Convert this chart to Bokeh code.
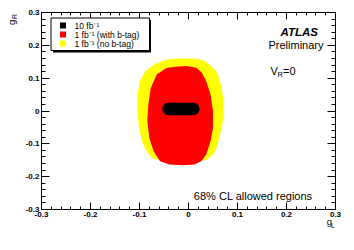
import numpy as np
from bokeh.plotting import figure
from bokeh.models import Range1d, FixedTicker, LinearAxis, Label, BoxAnnotation
from bokeh.embed import file_html
from bokeh.resources import INLINE

# ---- data (68% CL contours, in g_L / g_R units) ----
yellow_gL = [-0.030, -0.008, 0.018, 0.032, 0.043, 0.053, 0.060, 0.068, 0.072, 0.070, 0.063, 0.057,
             0.050, 0.035, -0.010, -0.060, -0.075, -0.085, -0.095, -0.101, -0.104, -0.104, -0.099,
             -0.088, -0.071, -0.045]
yellow_gR = [0.159, 0.160, 0.159, 0.153, 0.141, 0.127, 0.111, 0.070, 0.020, -0.031, -0.082, -0.113,
             -0.133, -0.150, -0.158, -0.150, -0.143, -0.123, -0.092, -0.051, -0.001, 0.050, 0.091,
             0.121, 0.141, 0.157]

red_gL = [-0.027, -0.004, 0.016, 0.027, 0.036, 0.045, 0.050, 0.050, 0.045, 0.036, 0.026, 0.012,
          -0.012, -0.039, -0.058, -0.071, -0.080, -0.084, -0.082, -0.077, -0.065, -0.045]
red_gR = [0.135, 0.137, 0.132, 0.117, 0.091, 0.050, -0.001, -0.052, -0.092, -0.133, -0.153, -0.163,
          -0.165, -0.163, -0.153, -0.123, -0.082, -0.031, 0.020, 0.070, 0.111, 0.131]

black_gL = [0.010, 0.0164, 0.021, 0.0227, 0.021, 0.0164, 0.010, -0.041, -0.0474, -0.052, -0.0537,
            -0.052, -0.0474, -0.041]
black_gR = [0.025, 0.0225, 0.0155, 0.006, -0.0035, -0.0105, -0.013, -0.013, -0.0105, -0.0035, 0.006,
            0.0155, 0.0225, 0.025]

series_labels = ["10 fb\u207b\u00b9", "1 fb\u207b\u00b9 (with b-tag)", "1 fb\u207b\u00b9 (no b-tag)"]
series_colors = ["#000000", "#ff0000", "#ffff00"]

tick_values = [-0.3, -0.2, -0.1, 0.0, 0.1, 0.2, 0.3]
tick_labels = ["-0.3", "-0.2", "-0.1", "0", "0.1", "0.2", "0.3"]
minor_values = [round(v, 3) for v in np.arange(-0.3, 0.3001, 0.02)]

FONT = "Liberation Sans"

# ---- layout: the frame covers the whole canvas, axes are placed at fixed locations ----
W, H = 346, 242
OFF = 1                      # picture offset of the canvas
FX0, FX1, FY0, FY1 = 42, 336, 13, 210   # axis box in picture pixels
sx = 0.6 / (FX1 - FX0)
sy = 0.6 / (FY1 - FY0)


def X(px):
    return -0.3 + (px - FX0) * sx


def Y(py):
    return 0.3 - (py - FY0) * sy


p = figure(width=W, height=H, output_backend="svg", toolbar_location=None,
           x_range=Range1d(X(OFF), X(OFF + W)), y_range=Range1d(Y(OFF + H), Y(OFF)),
           x_axis_location=None, y_axis_location=None,
           min_border=0, min_border_left=0, min_border_right=0, min_border_top=0, min_border_bottom=0)
p.xgrid.visible = False
p.ygrid.visible = False
p.outline_line_color = None
p.background_fill_color = "white"
p.border_fill_color = "white"


def labelled_axis(place, major_len, minor_len):
    ax = LinearAxis(fixed_location=-0.3, bounds=(-0.3, 0.3),
                    ticker=FixedTicker(ticks=tick_values, minor_ticks=minor_values),
                    major_tick_in=major_len, major_tick_out=0,
                    minor_tick_in=minor_len, minor_tick_out=0,
                    axis_line_color="black", major_tick_line_color="black",
                    minor_tick_line_color="black",
                    major_label_overrides=dict(zip(tick_values, tick_labels)),
                    major_label_text_font=FONT, major_label_text_font_size="8px",
                    major_label_text_font_style="bold", major_label_text_color="black",
                    major_label_standoff=2)
    p.add_layout(ax, place)


def mirror_axis(place, major_len, minor_len):
    # ticks only (no labels): major positions drawn as long "minor" ticks
    for pos, length in ((minor_values, minor_len), (tick_values, major_len)):
        ax = LinearAxis(fixed_location=0.3, bounds=(-0.3, 0.3),
                        ticker=FixedTicker(ticks=[], minor_ticks=pos),
                        major_tick_in=0, major_tick_out=0,
                        minor_tick_in=length, minor_tick_out=0,
                        axis_line_color="black", minor_tick_line_color="black",
                        major_label_standoff=0)
        p.add_layout(ax, place)


labelled_axis("below", 7, 3)
labelled_axis("left", 8, 4)
mirror_axis("above", 7, 3)
mirror_axis("right", 8, 4)

r_y = p.patch(yellow_gL, yellow_gR, fill_color=series_colors[2], line_color=None)
r_r = p.patch(red_gL, red_gR, fill_color=series_colors[1], line_color=None)
r_b = p.patch(black_gL, black_gR, fill_color=series_colors[0], line_color=None)


def lab(px, py, text, size, align="left", style="normal", angle=0.0):
    p.add_layout(Label(x=X(px), y=Y(py), text=text, text_font=FONT, text_font_size=size,
                       text_align=align, text_baseline="middle", text_font_style=style,
                       text_color="black", angle=angle))


# ---- legend (ROOT style box with shadow) ----
p.add_layout(BoxAnnotation(left=X(53.5), right=X(151.5), top=Y(20.5), bottom=Y(53),
                           fill_color="black", fill_alpha=1, line_color=None))
p.add_layout(BoxAnnotation(left=X(51.5), right=X(150), top=Y(18.5), bottom=Y(51),
                           fill_color="white", fill_alpha=1, line_color="black", line_width=1,
                           line_alpha=1))
row_py = [26.0, 35.0, 44.0]
for name, col, ry in zip(series_labels, series_colors, row_py):
    p.add_layout(BoxAnnotation(left=X(60.5), right=X(66.5), top=Y(ry - 3), bottom=Y(ry + 3),
                               fill_color=col, fill_alpha=1, line_color=None))
    lab(75, ry, name, "8.5px")

# ---- texts ----
lab(318.5, 32.7, "ATLAS", "11.5px", align="right", style="bold italic")
lab(324, 45, "Preliminary", "11px", align="right")
lab(271, 71.7, "V", "11px")
lab(278, 74.5, "R", "7.5px")
lab(283.5, 71.7, "=0", "11px")
lab(313, 196, "68% CL allowed regions", "11px", align="right")
lab(327.3, 222, "g", "9.5px")
lab(331.5, 226, "L", "7px")
lab(12, 25.5, "g", "9.5px", angle=np.pi / 2)
lab(14.5, 19.5, "R", "7px", angle=np.pi / 2)

open("out.html", "w").write(file_html(p, INLINE))
